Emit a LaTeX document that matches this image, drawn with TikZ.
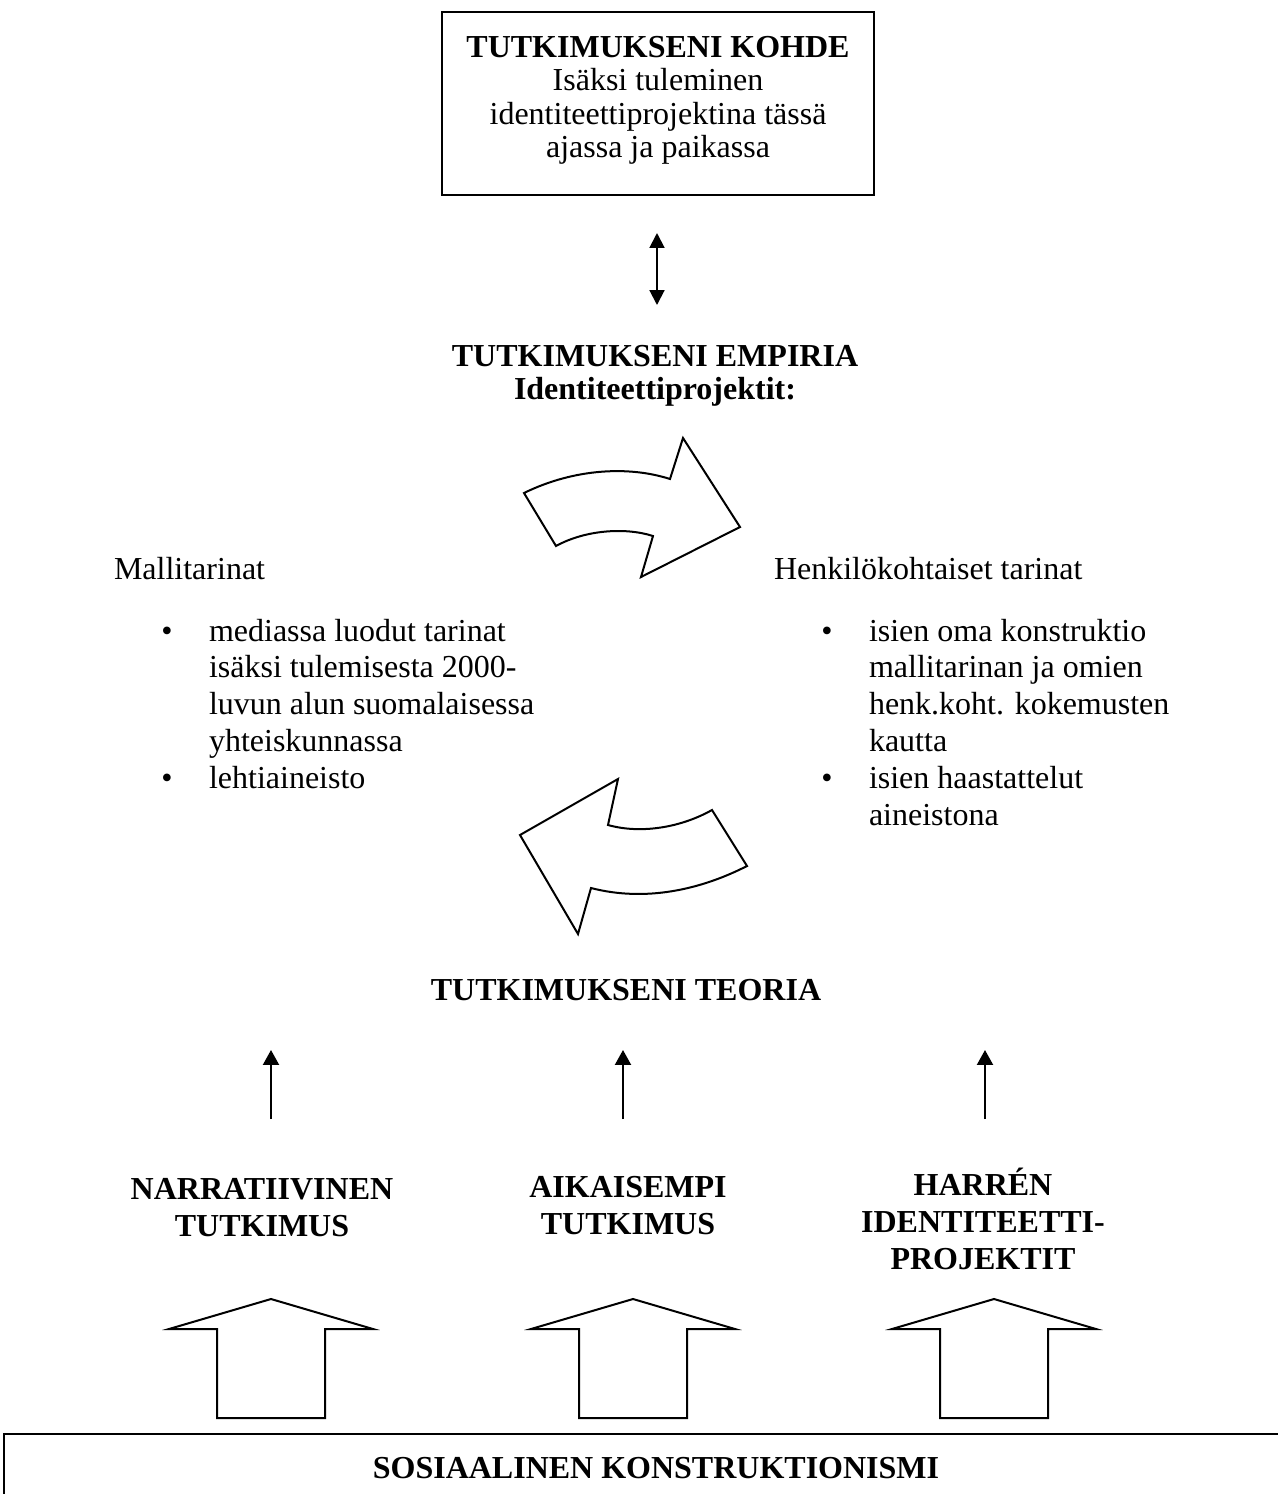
\documentclass[tikz,border=0pt]{standalone}
\usepackage{fontspec}
\setmainfont{Liberation Serif}
\usetikzlibrary{arrows.meta}
\begin{document}
\begin{tikzpicture}[x=0.375pt,y=-0.375pt, line width=0.75pt,
  txt/.style={inner sep=0pt, font=\fontsize{12}{13.8}\selectfont},
  boldtxt/.style={inner sep=0pt, font=\fontsize{12}{13.8}\selectfont\bfseries},
  thintip/.style={-{Triangle[width=6pt,length=5.6pt]}},
  dbltip/.style={{Triangle[width=5.6pt,length=5.6pt]}-{Triangle[width=5.6pt,length=5.6pt]}},
  shapeline/.style={draw, line width=0.75pt, line join=miter}]
\useasboundingbox (0,0) rectangle (1277,1494);
\fill[white] (0,0) rectangle (1277,1494);

% top box
\node[draw, minimum width=162pt, minimum height=68.625pt, inner sep=0pt] (kohde) at (658,103.5) {};
\node[boldtxt, anchor=base] (k1) at (658,57) {TUTKIMUKSENI KOHDE};
\node[txt, anchor=base] (k2) at (658,90.5) {Isäksi tuleminen};
\node[txt, anchor=base] (k3) at (658,124) {identiteettiprojektina tässä};
\node[txt, anchor=base] (k4) at (658,157.5) {ajassa ja paikassa};

% double arrow
\coordinate (da1) at (657,233);
\coordinate (da2) at (657,305);
\draw[dbltip] (da1) -- (da2);

% empiria
\node[boldtxt, anchor=base] (e1) at (655,366) {TUTKIMUKSENI EMPIRIA};
\node[boldtxt, anchor=base] (e2) at (655,399) {Identiteettiprojektit:};

% curved arrow right
\path[shapeline] (524,493) .. controls (575,468) and (630,466) .. (670,479)
  -- (683,438) -- (740,527) -- (641,577) -- (653,536)
  .. controls (625,527) and (585,530) .. (556,546) -- cycle;

% curved arrow left
\path[shapeline] (618,779) -- (608,825)
  .. controls (640,834) and (680,828) .. (712,810)
  -- (747,866)
  .. controls (700,890) and (645,902) .. (591,888)
  -- (578,934) -- (520,835) -- cycle;

% left column
\node[txt, anchor=base west] (ml) at (113,579) {Mallitarinat};
\node[txt, anchor=base] (lb1) at (167,641) {\textbullet};
\node[txt, anchor=base west] (l1) at (208,641) {mediassa luodut tarinat};
\node[txt, anchor=base west] (l2) at (208,677.8) {isäksi tulemisesta 2000-};
\node[txt, anchor=base west] (l3) at (208,714.6) {luvun alun suomalaisessa};
\node[txt, anchor=base west] (l4) at (208,751.4) {yhteiskunnassa};
\node[txt, anchor=base] (lb2) at (167,788.2) {\textbullet};
\node[txt, anchor=base west] (l5) at (208,788.2) {lehtiaineisto};

% right column
\node[txt, anchor=base west] (hk) at (773,579) {Henkilökohtaiset tarinat};
\node[txt, anchor=base] (rb1) at (827,641) {\textbullet};
\node[txt, anchor=base west] (r1) at (868,641) {isien oma konstruktio};
\node[txt, anchor=base west] (r2) at (868,677.8) {mallitarinan ja omien};
\node[txt, anchor=base west] (r3) at (868,714.6) {henk.koht. kokemusten};
\node[txt, anchor=base west] (r4) at (868,751.4) {kautta};
\node[txt, anchor=base] (rb2) at (827,788.2) {\textbullet};
\node[txt, anchor=base west] (r5) at (868,788.2) {isien haastattelut};
\node[txt, anchor=base west] (r6) at (868,825) {aineistona};

% teoria
\node[boldtxt, anchor=base] (teoria) at (626,1000) {TUTKIMUKSENI TEORIA};

% thin arrows
\foreach \x/\n in {271/a,623/b,985/c}{
  \coordinate (t\n1) at (\x,1119);
  \coordinate (t\n2) at (\x,1050);
  \draw[thintip] (t\n1) -- (t\n2);
}

% labels
\node[boldtxt, anchor=base] (n1) at (262,1199) {NARRATIIVINEN};
\node[boldtxt, anchor=base] (n2) at (262,1236) {TUTKIMUS};
\node[boldtxt, anchor=base] (a1) at (628,1197) {AIKAISEMPI};
\node[boldtxt, anchor=base] (a2) at (628,1234) {TUTKIMUS};
\node[boldtxt, anchor=base] (h1) at (983,1195) {HARRÉN};
\node[boldtxt, anchor=base] (h2) at (983,1232) {IDENTITEETTI-};
\node[boldtxt, anchor=base] (h3) at (983,1269) {PROJEKTIT};

% block arrows
\foreach \c in {271,633,994}{
  \path[shapeline] (\c,1299) -- (\c+102,1329) -- (\c+54,1329) -- (\c+54,1418)
    -- (\c-54,1418) -- (\c-54,1329) -- (\c-102,1329) -- cycle;
}

% bottom box
\draw (1300,1434) -- (4,1434) -- (4,1520);
\node[boldtxt, anchor=base] (sk) at (656,1478) {SOSIAALINEN KONSTRUKTIONISMI};
\end{tikzpicture}
\end{document}
